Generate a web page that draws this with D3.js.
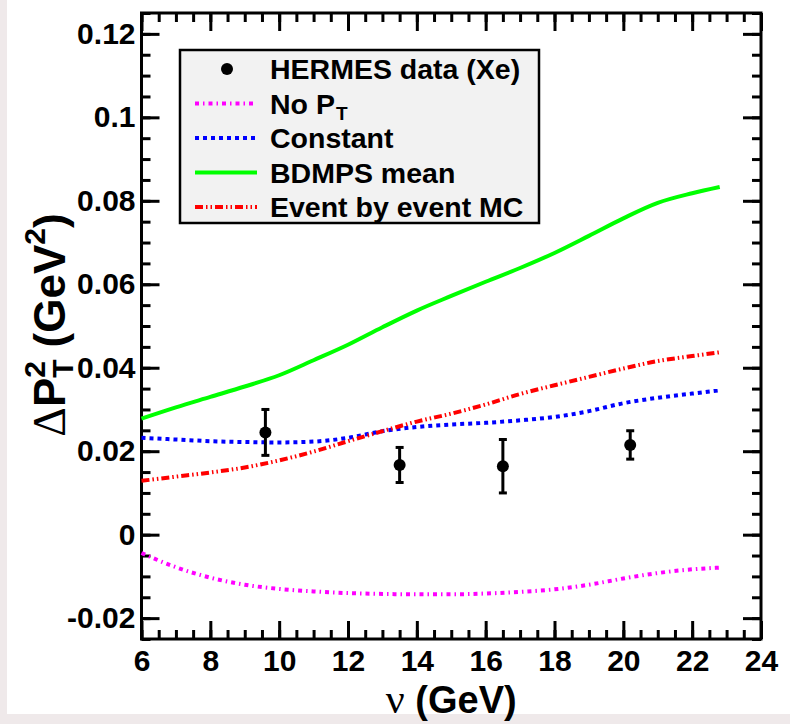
<!DOCTYPE html>
<html>
<head>
<meta charset="utf-8">
<script src="https://cdn.jsdelivr.net/npm/d3@7"></script>
<style>
  body { margin: 0; background: #fff; }
  svg { display: block; }
  .axis path { display: none; }
  .axis line { stroke: #000; stroke-width: 3; }
  .axis text { font-family: "Liberation Sans", Arial, sans-serif; font-weight: bold; font-size: 30px; fill: #000; }
  .lbl { font-family: "Liberation Sans", Arial, sans-serif; font-weight: bold; fill: #000; }
</style>
</head>
<body>
<svg id="chart" width="790" height="724"></svg>
<script>
// nu values where the model curves are sampled
var nuCurve = [6, 7, 8, 9, 10, 11, 12, 13, 14, 15, 16, 17, 18, 19, 20, 21, 22, 22.8];

// model curves (GeV^2)
var noPt     = [-0.0044, -0.0078, -0.0103, -0.0120, -0.0130, -0.0136, -0.0140, -0.0142, -0.0143, -0.0143, -0.0141, -0.0137, -0.0131, -0.0120, -0.0105, -0.0092, -0.0083, -0.0079];
var constant = [0.0232, 0.0228, 0.0224, 0.0222, 0.0221, 0.0223, 0.0232, 0.0248, 0.0258, 0.0264, 0.0268, 0.0274, 0.0282, 0.0296, 0.0315, 0.0328, 0.0338, 0.0346];
var bdmps    = [0.0278, 0.0305, 0.0330, 0.0355, 0.0382, 0.0418, 0.0455, 0.0497, 0.0537, 0.0572, 0.0606, 0.0639, 0.0675, 0.0716, 0.0758, 0.0795, 0.0818, 0.0833];
var eventMC  = [0.0129, 0.0139, 0.0149, 0.0161, 0.0178, 0.0199, 0.0224, 0.0248, 0.0271, 0.0290, 0.0312, 0.0337, 0.0358, 0.0378, 0.0398, 0.0416, 0.0428, 0.0437];

// HERMES Xe points
var hermesNu  = [9.6, 13.5, 16.5, 20.2];
var hermesVal = [0.0245, 0.0167, 0.0164, 0.0215];
var hermesErr = [0.0055, 0.0042, 0.0064, 0.0034];

// axis ticks
var xTicks = [6, 8, 10, 12, 14, 16, 18, 20, 22, 24];
var xTickLabels = ["6", "8", "10", "12", "14", "16", "18", "20", "22", "24"];
var yTicks = [-0.02, 0, 0.02, 0.04, 0.06, 0.08, 0.1, 0.12];
var yTickLabels = ["-0.02", "0", "0.02", "0.04", "0.06", "0.08", "0.1", "0.12"];

var legendNames = ["HERMES data (Xe)", "No P", "Constant", "BDMPS mean", "Event by event MC"];

(function() {
    var svg = d3.select("#chart");

    // light strips at the edge of the original picture
    svg.append("rect").attr("x", 0).attr("y", 0).attr("width", 7).attr("height", 724).attr("fill", "#efe9ea");
    svg.append("rect").attr("x", 0).attr("y", 714).attr("width", 790).attr("height", 10).attr("fill", "#efe9ea");

    var pLeft = 141.5, pRight = 761, pTop = 13, pBottom = 639;
    var x = d3.scaleLinear().domain([6, 24]).range([pLeft, pRight]);
    var y = d3.scaleLinear().domain([-0.025, 0.125]).range([pBottom, pTop]);

    var xMinor = d3.range(6, 24.01, 0.5);
    var yMinor = d3.range(-0.025, 0.1251, 0.005);

    function addAxis(axis, tx, ty) {
        svg.append("g").attr("class", "axis")
            .attr("transform", "translate(" + tx + "," + ty + ")")
            .call(axis);
    }

    // minor ticks, all four sides
    addAxis(d3.axisBottom(x).tickValues(xMinor).tickSize(-9).tickFormat(""), 0, pBottom);
    addAxis(d3.axisTop(x).tickValues(xMinor).tickSize(-9).tickFormat(""), 0, pTop);
    addAxis(d3.axisLeft(y).tickValues(yMinor).tickSize(-9).tickFormat(""), pLeft, 0);
    addAxis(d3.axisRight(y).tickValues(yMinor).tickSize(-9).tickFormat(""), pRight, 0);

    // major ticks with labels
    addAxis(d3.axisBottom(x).tickValues(xTicks).tickSize(-18).tickPadding(11)
        .tickFormat(function(d, i) { return xTickLabels[i]; }), 0, pBottom);
    addAxis(d3.axisTop(x).tickValues(xTicks).tickSize(-18).tickFormat(""), 0, pTop);
    addAxis(d3.axisLeft(y).tickValues(yTicks).tickSize(-18).tickPadding(6)
        .tickFormat(function(d, i) { return yTickLabels[i]; }), pLeft, 0);
    addAxis(d3.axisRight(y).tickValues(yTicks).tickSize(-18).tickFormat(""), pRight, 0);

    // frame
    svg.append("rect")
        .attr("x", pLeft).attr("y", pTop)
        .attr("width", pRight - pLeft).attr("height", pBottom - pTop)
        .attr("fill", "none").attr("stroke", "#000").attr("stroke-width", 3);

    // curves
    var series = [
        { vals: noPt,     color: "#ff00ff", dash: "4,4,1.5,4" },
        { vals: constant, color: "#0000ff", dash: "4,4" },
        { vals: bdmps,    color: "#00ff00", dash: null },
        { vals: eventMC,  color: "#ff0000", dash: "8,3,1.5,3,1.5,3" }
    ];

    var line = d3.line()
        .x(function(d) { return x(d[0]); })
        .y(function(d) { return y(d[1]); })
        .curve(d3.curveMonotoneX);

    var curves = svg.append("g");
    series.forEach(function(s) {
        var pts = nuCurve.map(function(n, i) { return [n, s.vals[i]]; });
        curves.append("path")
            .attr("d", line(pts))
            .attr("fill", "none")
            .attr("stroke", s.color)
            .attr("stroke-width", 4)
            .attr("stroke-dasharray", s.dash);
    });

    // data points with error bars
    var pts = svg.append("g").selectAll("g")
        .data(hermesNu.map(function(n, i) { return { nu: n, v: hermesVal[i], e: hermesErr[i] }; }))
      .enter().append("g");

    pts.append("line")
        .attr("x1", function(d) { return x(d.nu); }).attr("x2", function(d) { return x(d.nu); })
        .attr("y1", function(d) { return y(d.v + d.e); }).attr("y2", function(d) { return y(d.v - d.e); })
        .attr("stroke", "#000").attr("stroke-width", 3);
    [1, -1].forEach(function(sgn) {
        pts.append("line")
            .attr("x1", function(d) { return x(d.nu) - 4; }).attr("x2", function(d) { return x(d.nu) + 4; })
            .attr("y1", function(d) { return y(d.v + sgn * d.e); }).attr("y2", function(d) { return y(d.v + sgn * d.e); })
            .attr("stroke", "#000").attr("stroke-width", 3);
    });
    pts.append("circle")
        .attr("cx", function(d) { return x(d.nu); })
        .attr("cy", function(d) { return y(d.v); })
        .attr("r", 6).attr("fill", "#000");

    // legend
    var lg = svg.append("g");
    lg.append("rect")
        .attr("x", 180).attr("y", 50).attr("width", 359).attr("height", 173)
        .attr("fill", "#f2f2f2").attr("stroke", "#000").attr("stroke-width", 2.5);

    var rowY = function(i) { return 69 + i * 34.5; };
    legendNames.forEach(function(name, i) {
        var yy = rowY(i);
        if (i === 0) {
            lg.append("circle").attr("cx", 227).attr("cy", yy).attr("r", 6).attr("fill", "#000");
        } else {
            var s = series[i - 1];
            lg.append("line").attr("x1", 195).attr("x2", 257).attr("y1", yy).attr("y2", yy)
                .attr("stroke", s.color).attr("stroke-width", 4).attr("stroke-dasharray", s.dash);
        }
        var t = lg.append("text").attr("class", "lbl")
            .attr("x", 270).attr("y", yy + 10)
            .style("font-size", "28.5px")
            .text(name);
        if (i === 1) {
            var w = t.node().getComputedTextLength();
            lg.append("text").attr("class", "lbl")
                .attr("x", 270 + w + 1).attr("y", yy + 16)
                .style("font-size", "19px").text("T");
        }
    });

    // x title
    var xt = svg.append("text").attr("class", "lbl")
        .attr("x", (pLeft + pRight) / 2).attr("y", 713)
        .attr("text-anchor", "middle")
        .style("font-size", "38px");
    xt.append("tspan").style("font-family", "'Liberation Serif', serif").style("font-weight", "normal")
        .style("font-size", "42px").text("ν");
    xt.append("tspan").text("\u00a0(GeV)");

    // y title, built piece by piece for the stacked sup/sub
    var yt = svg.append("g").attr("transform", "translate(65,325) rotate(-90)");
    var pieces = [];
    var cx = 0;
    function piece(txt, size, dy, advance, family, weight) {
        var t = yt.append("text").attr("class", "lbl")
            .attr("x", cx).attr("y", dy)
            .style("font-size", size + "px")
            .text(txt);
        if (family) t.style("font-family", family);
        if (weight) t.style("font-weight", weight);
        var w = t.node().getComputedTextLength();
        pieces.push(t);
        if (advance) cx += w;
        return w;
    }
    piece("Δ", 46, 0, true, "'Liberation Serif', serif", "normal");
    piece("P", 44, 0, true);
    var w1 = piece("2", 30, -20, false);
    var w2 = piece("T", 30, 8, false);
    cx += Math.max(w1, w2) + 12;
    piece("(GeV", 44, 0, true);
    piece("2", 30, -20, true);
    piece(")", 44, 0, true);
    pieces.forEach(function(t) { t.attr("x", +t.attr("x") - cx / 2); });
})();
</script>
</body>
</html>
